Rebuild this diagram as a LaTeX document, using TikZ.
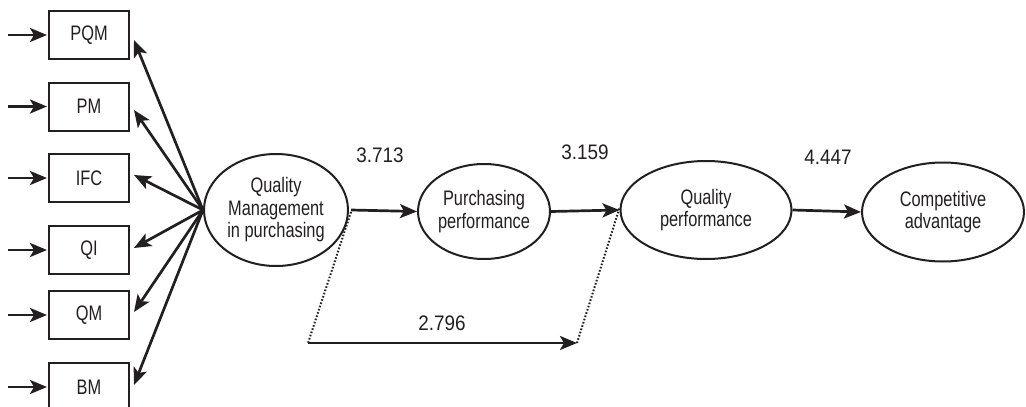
\documentclass[tikz,border=0pt]{standalone}
\usepackage{fontspec}
\setmainfont{Liberation Sans}
\newfontfamily\labfont[FakeStretch=0.78]{Liberation Sans}
\newfontfamily\numfont[FakeStretch=0.9]{Liberation Sans}
\usetikzlibrary{shapes.geometric,arrows.meta}
\definecolor{ink}{RGB}{35,31,32}
\begin{document}
\begin{tikzpicture}[x=1pt,y=-1pt,
  box/.style={draw=ink, line width=2pt, minimum width=80pt, minimum height=48pt, inner sep=0pt,
    font=\labfont\fontsize{21}{22.5}\selectfont, text=ink},
  ell/.style={ellipse, draw=ink, line width=2pt, inner sep=0pt, align=center,
    font=\labfont\fontsize{21}{22.5}\selectfont, text=ink},
  arr/.style={draw=ink, line width=2.7pt, -{Stealth[length=17pt,width=14pt,inset=4pt]}},
  dotline/.style={draw=ink, line width=2pt, dash pattern=on 1.6pt off 1.8pt},
  numlab/.style={font=\numfont\fontsize{21}{22.5}\selectfont, text=ink, inner sep=0pt}
]
\useasboundingbox (0,0) rectangle (1026,407);
\clip (0,0) rectangle (1026,407);

% indicator boxes
\node[box] (pqm) at (89,35) {PQM};
\node[box] (pm)  at (89,106.5) {PM};
\node[box] (ifc) at (89,178) {IFC};
\node[box] (qi)  at (89,250) {QI};
\node[box] (qmb) at (89,315) {QM};
\node[box] (bm)  at (89,387) {BM};

% input arrows
\foreach \b in {pqm,pm,ifc,qi,qmb,bm}{
  \coordinate (in-\b) at ([xshift=-40pt]\b.west);
  \draw[arr] (in-\b) -- ([xshift=-1pt]\b.west);
}

% ellipses
\node[ell, minimum width=144pt, minimum height=112pt] (qm) at (276,210) {Quality\\Management\\in purchasing};
\node[ell, minimum width=132pt, minimum height=95pt] (pp) at (484,211.5) {Purchasing\\performance};
\node[ell, minimum width=171pt, minimum height=98pt] (qp) at (706,210) {Quality\\performance};
\node[ell, minimum width=162pt, minimum height=99pt] (ca) at (943,212) {Competitive\\advantage};

% fan arrows
\draw[arr] (qm.west) -- ([shift={(4,5)}]pqm.east);
\draw[arr] (qm.west) -- ([shift={(4,3.5)}]pm.east);
\draw[arr] (qm.west) -- ([shift={(4,-3)}]ifc.east);
\draw[arr] (qm.west) -- ([shift={(4,-2)}]qi.east);
\draw[arr] (qm.west) -- ([shift={(4,-3)}]qmb.east);
\draw[arr] (qm.west) -- ([shift={(4,-2)}]bm.east);

% structural paths
\draw[arr] ([xshift=2pt]qm.east) -- (pp.west);
\draw[arr] (pp.east) -- (qp.west);
\draw[arr] (qp.east) -- (ca.west);

% indirect path
\coordinate (d1) at (308,343);
\coordinate (d2) at (577,343);
\draw[dotline] ([shift={(2,2)}]qm.east) -- (d1);
\draw[arr] (d1) -- (d2);
\draw[dotline] (d2) -- ([yshift=2pt]qp.west);

% labels
\node[numlab] (l1) at (380,155) {3.713};
\node[numlab] (l2) at (585,152) {3.159};
\node[numlab] (l3) at (828,157) {4.447};
\node[numlab] (l4) at (442,323) {2.796};
\end{tikzpicture}
\end{document}
